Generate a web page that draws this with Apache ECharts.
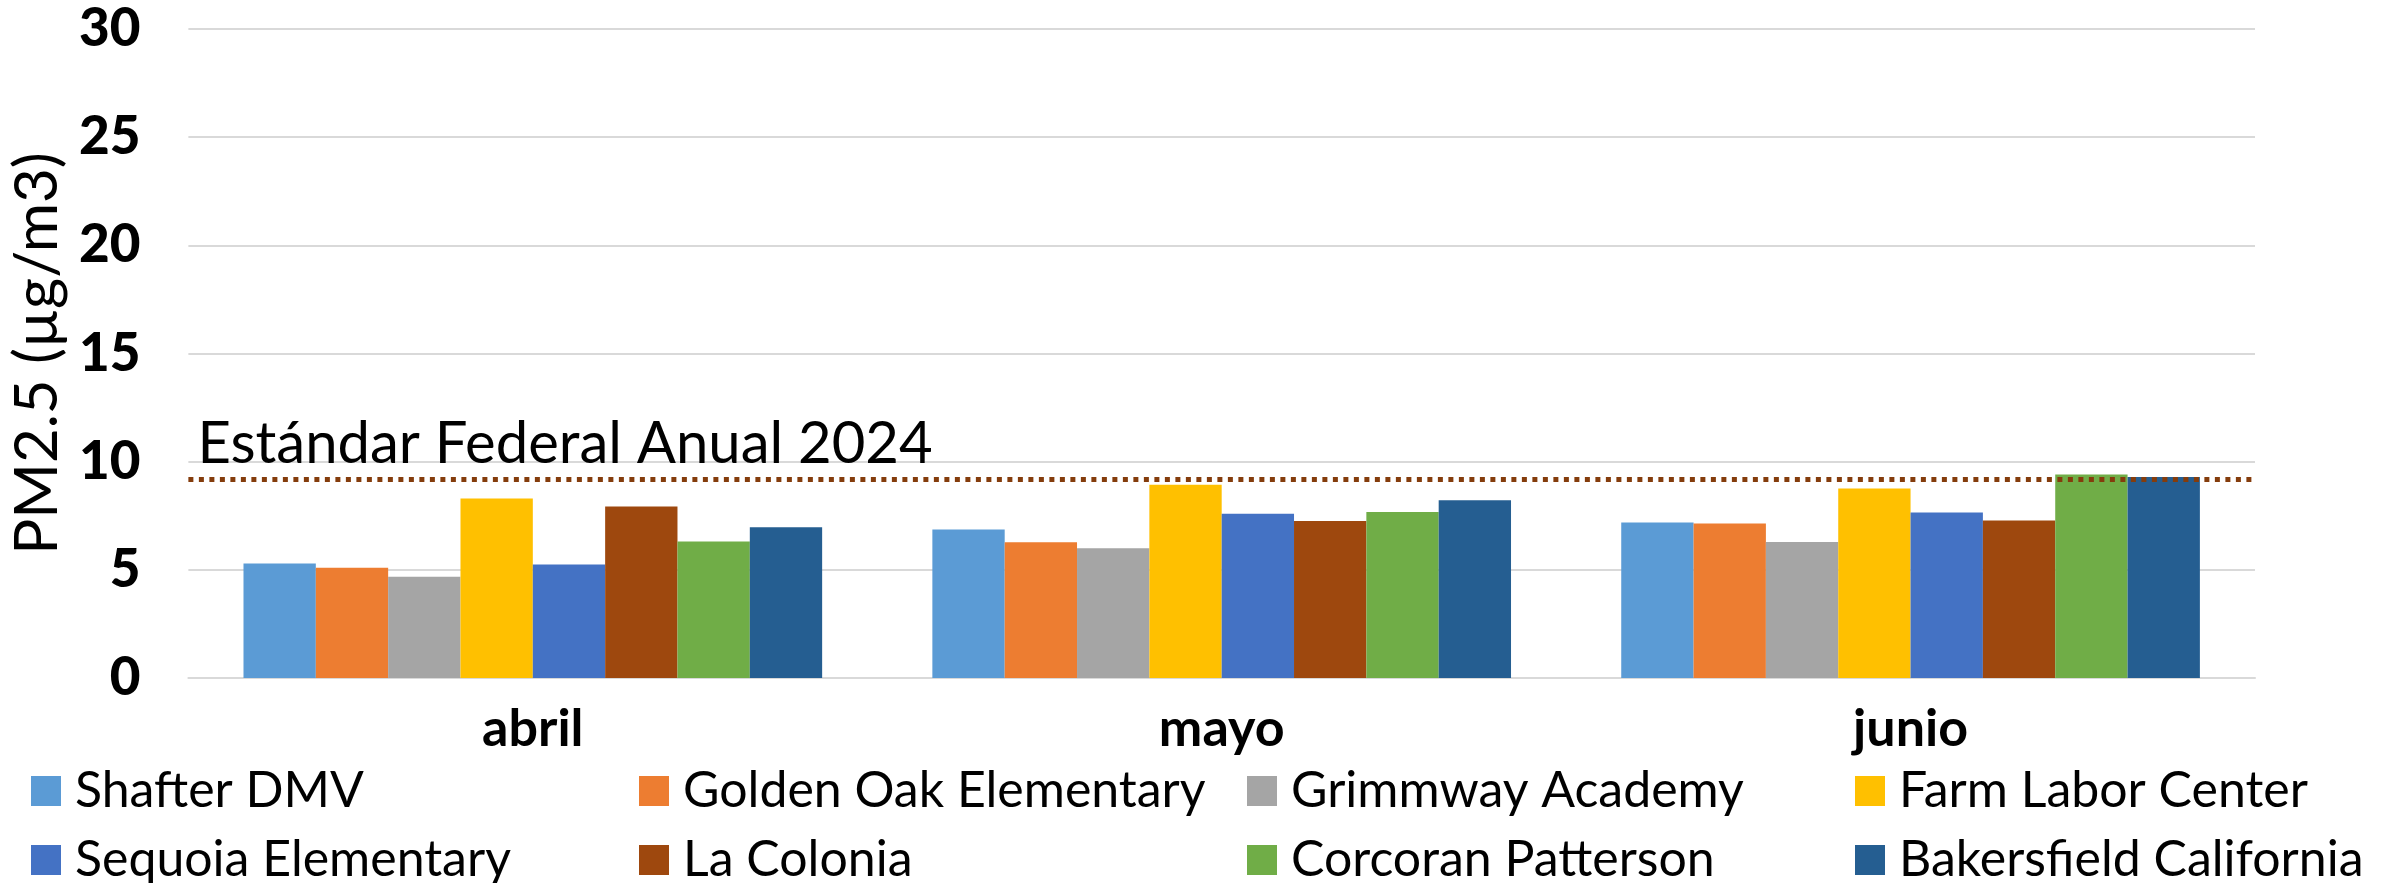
<!DOCTYPE html>
<html>
<head>
<meta charset="utf-8">
<script src="https://cdn.jsdelivr.net/npm/echarts@6/dist/echarts.min.js"></script>
<style>
  html, body { margin: 0; padding: 0; background: #fff; }
  #chart { width: 2384px; height: 883px; }
</style>
</head>
<body>
<div id="chart"></div>
<script>
const months = ['abril', 'mayo', 'junio'];
const stations = ['Shafter DMV', 'Golden Oak Elementary', 'Grimmway Academy', 'Farm Labor Center',
                  'Sequoia Elementary', 'La Colonia', 'Corcoran Patterson', 'Bakersfield California'];
const colors = ['#5B9BD5', '#ED7D31', '#A5A5A5', '#FFC000', '#4472C4', '#9E480E', '#70AD47', '#255E91'];
const shafter     = [5.29, 6.86, 7.19];
const goldenOak   = [5.10, 6.28, 7.14];
const grimmway    = [4.68, 6.00, 6.29];
const farmLabor   = [8.30, 8.93, 8.76];
const sequoia     = [5.25, 7.59, 7.65];
const laColonia   = [7.93, 7.26, 7.28];
const corcoran    = [6.31, 7.67, 9.41];
const bakersfield = [6.97, 8.22, 9.29];
const seriesValues = [shafter, goldenOak, grimmway, farmLabor, sequoia, laColonia, corcoran, bakersfield];
const standardValue = 9.2;
const standardLabel = 'Estándar Federal Anual 2024';
const yTicks = { min: 0, max: 30, interval: 5 };
const yName = 'PM2.5 (µg/m3)';

const font = 'Lato, "Open Sans", "Noto Sans", sans-serif';

const series = stations.map((name, i) => {
  const s = {
    name: name,
    type: 'bar',
    data: seriesValues[i],
    itemStyle: { color: colors[i] },
    barGap: '0%',
    barCategoryGap: '16%'
  };
  if (i === 0) {
    s.markLine = {
      silent: true,
      symbol: ['none', 'none'],
      lineStyle: { color: '#843C0C', width: 5, type: [5, 5.5] },
      label: {
        show: true,
        position: 'insideStartTop',
        formatter: standardLabel,
        fontFamily: font,
        fontSize: 58,
        color: '#000',
        distance: [9, 6]
      },
      data: [{ yAxis: standardValue }]
    };
  }
  return s;
});

// legend grid: 2 rows x 4 columns, one legend component per entry
const columnLefts = [31, 639, 1247, 1855];
const rowTops = [766, 835];
const legends = stations.map((name, i) => ({
  left: columnLefts[i % 4],
  top: rowTops[Math.floor(i / 4)],
  orient: 'horizontal',
  padding: 0,
  icon: 'rect',
  itemWidth: 30,
  itemHeight: 30,
  selectedMode: false,
  data: [name],
  textStyle: { fontFamily: font, fontSize: 50, color: '#000', lineHeight: 50, padding: [0, 0, 0, 9] }
}));

const chart = echarts.init(document.getElementById('chart'), null, { renderer: 'canvas' });
chart.setOption({
  animation: false,
  color: colors,
  grid: { left: 182, right: 129, top: 29, bottom: 205, containLabel: false },
  legend: legends,
  xAxis: {
    type: 'category',
    data: months,
    axisLine: { show: true, lineStyle: { color: '#D9D9D9', width: 2 } },
    axisTick: { show: false },
    axisLabel: { fontFamily: font, fontWeight: 'bold', fontSize: 52, color: '#000', margin: 25 }
  },
  yAxis: {
    type: 'value',
    min: yTicks.min,
    max: yTicks.max,
    interval: yTicks.interval,
    name: yName,
    nameLocation: 'middle',
    nameRotate: 90,
    nameGap: 115,
    nameTextStyle: { fontFamily: font, fontSize: 60, color: '#000' },
    axisLine: { show: false },
    axisTick: { show: false },
    splitLine: { lineStyle: { color: '#D9D9D9', width: 2 } },
    axisLabel: { fontFamily: font, fontWeight: 900, fontSize: 53, color: '#000', margin: 48 }
  },
  series: series
});
</script>
</body>
</html>
